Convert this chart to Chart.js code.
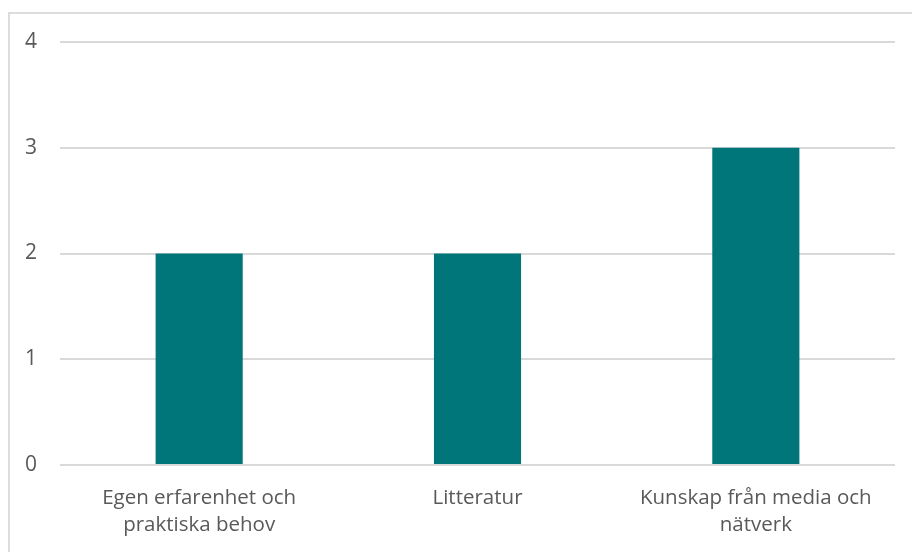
<!DOCTYPE html>
<html>
<head>
<meta charset="utf-8">
<script src="https://cdn.jsdelivr.net/npm/chart.js@4/dist/chart.umd.min.js"></script>
<style>
  html, body { margin: 0; padding: 0; background: #fff; }
  #wrap { position: relative; width: 912px; height: 552px; overflow: hidden; }
  #frame {
    position: absolute; left: 8px; top: 12px; width: 920px; height: 560px;
    border: 2px solid #dcdcdc; box-sizing: border-box;
  }
  canvas { position: absolute; left: 0; top: 0; }
</style>
</head>
<body>
<div id="wrap">
  <div id="frame"></div>
  <canvas id="chart" width="912" height="552"></canvas>
</div>
<script>
// chart data
const categories = [
    ['Egen erfarenhet och', 'praktiska behov'],
    'Litteratur',
    ['Kunskap från media och', 'nätverk']
];
const values = [2, 2, 3];
const yTicks = [0, 1, 2, 3, 4];

const textColor = '#595959';
const fontFamily = "'Open Sans', 'Liberation Sans', sans-serif";

const canvas = document.getElementById('chart');

new Chart(canvas, {
    type: 'bar',
    data: {
        labels: categories,
        datasets: [{
            data: values,
            backgroundColor: '#00767b',
            borderWidth: 0,
            categoryPercentage: 1,
            barPercentage: 0.313
        }]
    },
    options: {
        responsive: false,
        animation: false,
        layout: {
            padding: { top: 42, right: 17, bottom: 0, left: 0 }
        },
        plugins: {
            legend: { display: false },
            tooltip: { enabled: false }
        },
        scales: {
            x: {
                grid: { display: false, drawTicks: false },
                border: { display: false },
                ticks: {
                    color: textColor,
                    padding: 20,
                    maxRotation: 0,
                    autoSkip: false,
                    font: { family: fontFamily, size: 20.5, lineHeight: 1.3 }
                },
                afterFit: function(scale) { scale.height = 87; }
            },
            y: {
                min: yTicks[0],
                max: yTicks[yTicks.length - 1],
                grid: { color: '#d9d9d9', lineWidth: 2, drawTicks: false },
                border: { display: false },
                ticks: {
                    stepSize: 1,
                    color: textColor,
                    padding: 23,
                    font: { family: fontFamily, size: 21 }
                },
                afterFit: function(scale) { scale.width = 60; }
            }
        }
    }
});
</script>
</body>
</html>
